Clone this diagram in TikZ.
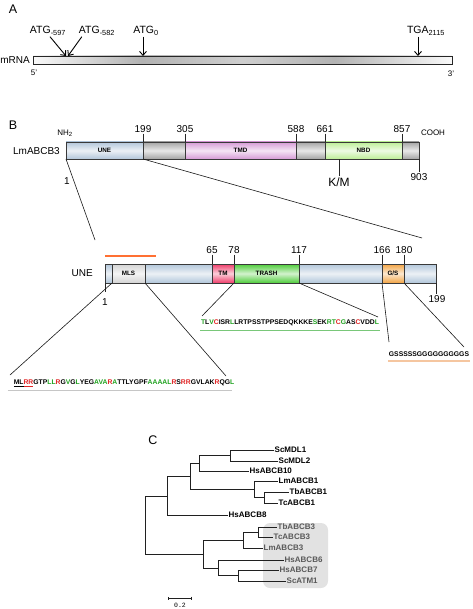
\documentclass[tikz,border=0pt]{standalone}
\usepackage{fontspec}
\setmainfont{Liberation Sans}
\setsansfont{Liberation Sans}
\setmonofont{Liberation Mono}
\usetikzlibrary{positioning}
\usetikzlibrary{arrows.meta}
\definecolor{uneblue}{HTML}{B2C6DA}
\definecolor{midgray}{HTML}{A4A4A4}
\definecolor{tmdpink}{HTML}{D69AD6}
\definecolor{nbdgreen}{HTML}{BCEE96}
\definecolor{mlsgray}{HTML}{D4D4D4}
\definecolor{tmred}{HTML}{EE3E6A}
\definecolor{trashgreen}{HTML}{4ECC3A}
\definecolor{gsorange}{HTML}{F2A444}
\definecolor{seqred}{HTML}{E02424}
\definecolor{seqgreen}{HTML}{1FA21F}
\definecolor{peach}{HTML}{F5C6A0}
\definecolor{boxgray}{HTML}{E2E2E2}
\pgfdeclarehorizontalshading{mrnashade}{100bp}{color(0bp)=(gray!5); color(25bp)=(gray!5); color(38bp)=(gray!60); color(50bp)=(gray!38); color(61bp)=(gray!60); color(75bp)=(gray!5); color(100bp)=(gray!5)}
\newcommand{\sqr}[1]{\textcolor{seqred}{#1}}
\newcommand{\sqg}[1]{\textcolor{seqgreen}{#1}}

\begin{document}
\begin{tikzpicture}[x=1pt,y=-1pt,
  panel/.style={font=\fontsize{12.5}{14}\selectfont},
  lab/.style={font=\fontsize{10.5}{12}\selectfont, inner sep=1pt},
  num/.style={font=\fontsize{10}{12}\selectfont, inner sep=1pt},
  small/.style={font=\fontsize{8}{9}\selectfont, inner sep=1pt},
  arr/.style={-{Straight Barb[length=4pt,width=7pt]}, line width=0.9pt},
  tick/.style={draw=gray!30!black, line width=0.6pt},
  zoomline/.style={draw=gray!20!black, line width=0.6pt},
  seg/.style={draw=gray!45!black, line width=0.5pt, inner sep=0, outer sep=0, anchor=west,
    top color=#1, bottom color=#1, middle color=#1!25!white,
    font=\sffamily\bfseries\fontsize{6.3}{7}\selectfont},
  seq/.style={font=\bfseries\fontsize{6.8}{8}\selectfont, inner sep=1pt},
  leaf/.style={anchor=west, inner sep=1.5pt, font=\bfseries\fontsize{8}{9}\selectfont},
  leafbox/.style={leaf, text=black!65},
  branch/.style={draw=gray!25!black, line width=1pt, line cap=rect}]
\useasboundingbox (0,0) rectangle (472,609);

% A: mRNA
\node[panel] (pa) at (13,9) {A};
\node[draw=gray!30!black, line width=0.6pt, shading=mrnashade, minimum width=419, minimum height=8,
  inner sep=0, outer sep=0, anchor=west] (mrna) at (33,60) {};
\node[num, anchor=east] (mlab) at (31,60) {mRNA};
\node[small] (five) at (34,73) {5'};
\node[small] (three) at (451,74) {3'};
\coordinate (p597) at (66,56);
\coordinate (p582) at (68,56);
\coordinate (p0) at (143,56);
\coordinate (p2115) at (418,56);
\node[lab] (atgA) at (48,31) {ATG\textsubscript{-597}};
\node[lab] (atgB) at (97,31) {ATG\textsubscript{-582}};
\node[lab] (atg0) at (146,31) {ATG\textsubscript{0}};
\node[lab] (tga) at (426,31) {TGA\textsubscript{2115}};
\draw[arr] ([xshift=2pt]atgA.south) -- (p597);
\draw[arr] ([xshift=4pt]atgB.south west) -- (p582);
\draw[arr] (atg0.south -| p0) -- (p0);
\draw[arr] (tga.south -| p2115) -- (p2115);

% B: domains of the transporter
\node[panel] (pb) at (13,125) {B};
\foreach \xa/\xb/\col/\txt/\nm in {66/143/uneblue/UNE/une, 143/185/midgray/{}/g1, 185/296/tmdpink/TMD/tmd,
    296/325/midgray/{}/g2, 325/402/nbdgreen/NBD/nbd, 402/419/midgray/{}/g3}
  \node[seg=\col, minimum width=\xb-\xa, minimum height=17] (\nm) at (\xa,150.5) {\txt};
\node[num, anchor=east] (lm3) at (61,151) {LmABCB3};
\node[small] (nh2) at (65,133) {NH\textsubscript{2}};
\node[small] (cooh) at (433,133) {COOH};
\foreach \x/\v in {143/199, 185/305, 296/588, 325/661, 402/857} {
  \node[num] (b\v) at (\x,129) {\v};
  \draw[tick] (b\v) -- (b\v |- une.north);
}
\node[num] (b1) at (67,181) {1};
\node[num] (b903) at (419,177) {903};
\draw[tick] (g3.south east) -- (g3.south east |- b903.north);
\node[font=\fontsize{12}{14}\selectfont, inner sep=1pt] (km) at (339,182) {K/M};
\draw[tick] (km.north) -- (km.north |- nbd.south);

% B: zoom on UNE
\coordinate (z1) at (95,240);
\coordinate (z2) at (422,238);
\draw[zoomline] (une.south west) -- (z1);
\draw[zoomline] (une.south east) -- (z2);
\draw[draw=orange!60!red!80, line width=1.2pt] (105,256) -- (156,256);
\node[seg=uneblue, minimum width=331, minimum height=19] (une2) at (105,273.5) {};
\foreach \xa/\xb/\col/\txt/\nm in {112/145/mlsgray/MLS/mls, 212/234/tmred/TM/tm,
    234/299/trashgreen/TRASH/trash, 382/404/gsorange/{G/S}/gs}
  \node[seg=\col, minimum width=\xb-\xa, minimum height=19] (\nm) at (\xa,273.5) {\txt};
\node[num, anchor=east] (unelab) at (94,273) {UNE};
\foreach \x/\v in {212/65, 234/78, 299/117, 382/166, 404/180} {
  \node[num] (u\v) at (\x,250) {\v};
  \draw[tick] (u\v) -- (u\v |- une2.north);
}
\node[num] (u1) at (105,302) {1};
\node[num] (u199) at (437,299) {199};
\draw[tick, shorten >=5pt] (une2.south west) -- (une2.south west |- u1.north);
\draw[tick] (une2.south east) -- (une2.south east |- u199.north);

% B: sequences
\node[seq] (mlsseq) at (124,383) {\underline{ML}\sqr{\underline{RR}}GTP\sqg{LL}\sqr{R}G\sqg{V}G\sqg{L}YEG\sqg{AVA}\sqr{R}\sqg{A}TTLYGPF\sqg{AAAAL}\sqr{R}S\sqr{RR}GVLAK\sqr{R}QG\sqg{L}};
\node[seq] (trseq) at (290,323) {\sqg{T}L\sqg{V}\sqr{C}ISR\sqg{L}LRTPSSTPPSEDQKKKE\sqg{S}EK\sqg{RT}\sqr{C}\sqg{G}AS\sqr{C}VDD\sqg{L}};
\node[seq] (gsseq) at (429,354) {GSSSSSGGGGGGGGGS};
\draw[draw=gray!45, line width=1.8pt] ([yshift=-3pt,xshift=-5pt]mlsseq.south west) -- ([yshift=-3pt,xshift=-3pt]mlsseq.south east);
\draw[draw=seqgreen!60!white, line width=1.2pt] ([yshift=-3pt]trseq.south west) -- ([yshift=-3pt]trseq.south east);
\draw[draw=peach, line width=1.8pt] ([yshift=-3pt]gsseq.south west) -- ([yshift=-3pt]gsseq.south east);
\coordinate (m1) at (10,375);
\coordinate (m2) at (226,376);
\coordinate (t1) at (202,316);
\coordinate (t2) at (378,317);
\coordinate (s1) at (389,342);
\coordinate (s2) at (464,347);
\draw[zoomline] (mls.south west) -- (m1);
\draw[zoomline] (mls.south east) -- (m2);
\draw[zoomline] (trash.south west) -- (t1);
\draw[zoomline] (trash.south east) -- (t2);
\draw[zoomline] (gs.south west) -- (s1);
\draw[zoomline] (gs.south east) -- (s2);

% C: tree
\node[panel] (pc) at (153,440) {C};
\fill[boxgray, rounded corners=7pt] (263,523) rectangle (328,588);
\foreach \nm/\x/\y in {ScMDL1/273/450, ScMDL2/277/461, HsABCB10/248/471, LmABCB1/277/481,
    TbABCB1/288/492, TcABCB1/277/503, HsABCB8/227/515}
  \node[leaf] (\nm) at (\x,\y) {\nm};
\foreach \nm/\x/\y in {TbABCB3/276/527, TcABCB3/272/537, LmABCB3/262/548,
    HsABCB6/283/560, HsABCB7/278/570, ScATM1/285/581}
  \node[leafbox] (\nm) at (\x,\y) {\nm};
\foreach \nm/\x/\y in {n1/230/455.5, n2/199/463.5, n3/264/497.5, n4/254/489, n5/190/476.5,
    n6/167/496, n7/258/532, n8/243/540, n9/238/575.5, n10/218/568, n11/203/554, root/145/525}
  \coordinate (\nm) at (\x,\y);
\foreach \p/\c in {n1/ScMDL1, n1/ScMDL2, n2/n1, n2/HsABCB10, n3/TbABCB1, n3/TcABCB1,
    n4/LmABCB1, n4/n3, n5/n2, n5/n4, n6/n5, n6/HsABCB8, n7/TbABCB3, n7/TcABCB3,
    n8/n7, n8/LmABCB3, n9/HsABCB7, n9/ScATM1, n10/HsABCB6, n10/n9, n11/n8, n11/n10,
    root/n6, root/n11}
  \draw[branch] (\p) |- (\c);

% scale bar
\coordinate (sb1) at (168,598);
\coordinate (sb2) at (192,598);
\draw[draw=gray!25!black, line width=0.9pt, {Bar[width=3pt]}-{Bar[width=3pt]}] (sb1) -- (sb2);
\node[font=\ttfamily\fontsize{6.5}{7}\selectfont, inner sep=0] (sblab) at (180,605) {0.2};
\end{tikzpicture}
\end{document}
